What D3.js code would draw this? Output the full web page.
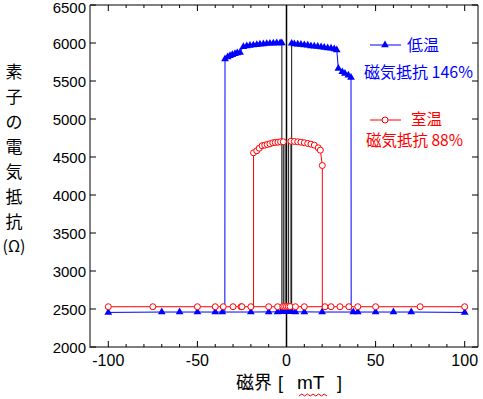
<!DOCTYPE html>
<html>
<head>
<meta charset="UTF-8">
<script src="https://d3js.org/d3.v7.min.js"></script>
<style>
  body { margin: 0; background: #fff; }
  svg { display: block; }
</style>
</head>
<body>
<svg></svg>
<script>
const width = 483, height = 399;

// tick values
const xTickValues = [-100, -50, 0, 50, 100];
const xMinorTicks = d3.range(-100, 101, 10);
const yTickValues = [2000, 2500, 3000, 3500, 4000, 4500, 5000, 5500, 6000, 6500];

// 低温 (blue, triangles)  [field mT, resistance Ω]
const lowBase = [[-100,2455],[-70,2460],[-60,2460],[-50,2460],[-40,2460],[-36,2460],[-20,2460],[-10,2462],[-5,2462],[-3,2465],[-2,2465],[-1,2465],[0,2465],[1,2465],[2,2465],[3,2465],[5,2462],[10,2462],[20,2460],[37.5,2460],[40,2460],[50,2460],[60,2460],[70,2460],[100,2455]];
const lowHighLeft = [[-34.6,2460],[-34.5,5790],[-33,5815],[-31.7,5833],[-30.4,5846],[-28.9,5858],[-27.6,5868],[-26.1,5876],[-24.2,5952],[-22.3,5960],[-20.5,5966],[-18.6,5972],[-16.7,5978],[-14.9,5983],[-13,5988],[-11.1,5992],[-9.3,5995],[-7.4,5998],[-5.5,6000],[-3.6,6000],[-2.6,6000]];
const lowHighRight = [[2.9,5995],[4.4,5988],[6.3,5984],[8.1,5980],[10,5975],[11.9,5970],[13.7,5962],[15.6,5957],[17.5,5953],[19.4,5948],[21.2,5940],[23.1,5935],[25,5930],[26.8,5921],[28.2,5908],[29.1,5664],[31.3,5620],[32.8,5598],[34.7,5575],[36.2,5545],[36.3,2460]];

// 室温 (red, open circles)
const roomBase = [[-100,2530],[-75,2530],[-50,2530],[-40,2530],[-35.5,2530],[-30,2530],[-25.5,2530],[-25,2530],[-20,2530],[-10,2530],[-5,2530],[-2,2532],[-1,2532],[0,2532],[1,2532],[2,2532],[5,2530],[10,2530],[21.6,2530],[25,2530],[30,2530],[35,2530],[40,2530],[50,2530],[75,2530],[100,2530]];
const roomHighLeft = [[-18.5,4555],[-16.7,4582],[-15.3,4616],[-13.7,4648],[-12.2,4656],[-10.8,4665],[-9.3,4674],[-7.7,4687],[-6.3,4691],[-4.8,4695],[-3.3,4700],[-1.8,4700]];
const roomHighRight = [[2.5,4708],[4.4,4704],[6.3,4700],[8.1,4695],[10,4687],[11.9,4678],[13.7,4669],[15.6,4656],[17.8,4621],[19,4590],[20.1,4388]];

// transitions near zero field (drawn black): [field, top Ω]
const zeroLinks = [[-2.6,6000],[2.9,5995],[-1.8,4700],[2.5,4708],[-0.8,4700],[1.2,4700]];

const yTitle = ["素", "子", "の", "電", "気", "抵", "抗"];

const svg = d3.select("svg").attr("width", width).attr("height", height);

const x = d3.scaleLinear().domain([-100, 100]).range([108.3, 464.7]);
const y = d3.scaleLinear().domain([2000, 6500]).range([347, 5]);
const pLeft = 90, pRight = 478, pTop = y(6500), pBottom = y(2000);

// zero line
svg.append("line")
  .attr("x1", x(0)).attr("x2", x(0)).attr("y1", pTop).attr("y2", pBottom)
  .attr("stroke", "#000").attr("stroke-width", 1.5);

// black transitions near zero
svg.append("g").selectAll("line")
  .data(zeroLinks)
  .join("line")
  .attr("x1", d => x(d[0])).attr("x2", d => x(d[0]))
  .attr("y1", d => y(d[1])).attr("y2", y(2460))
  .attr("stroke", "#111").attr("stroke-width", 1);

const line = d3.line().x(d => x(d[0])).y(d => y(d[1]));
const tri = d3.symbol(d3.symbolTriangle, 26);

function drawLow(data, withBottom) {
  svg.append("path").datum(data)
    .attr("d", line).attr("fill", "none").attr("stroke", "#0000ff").attr("stroke-width", 1);
  svg.append("g").selectAll("path")
    .data(data.filter(d => d[1] > 3000 || !withBottom))
    .join("path")
    .attr("d", tri)
    .attr("transform", d => `translate(${x(d[0])},${y(d[1])})`)
    .attr("fill", "#0000ff");
}
function drawRoom(data, ends) {
  let pts = data.slice();
  if (ends === "left") pts.unshift([data[0][0], 2530]);
  if (ends === "right") pts.push([data[data.length - 1][0], 2530]);
  svg.append("path").datum(pts)
    .attr("d", line).attr("fill", "none").attr("stroke", "#ff0000").attr("stroke-width", 1);
  svg.append("g").selectAll("circle")
    .data(data)
    .join("circle")
    .attr("cx", d => x(d[0])).attr("cy", d => y(d[1])).attr("r", 3)
    .attr("fill", "#fff").attr("stroke", "#ff0000").attr("stroke-width", 1);
}

drawLow(lowBase, false);
drawLow(lowHighLeft, true);
drawLow(lowHighRight, true);
drawRoom(roomBase, null);
drawRoom(roomHighLeft, "left");
drawRoom(roomHighRight, "right");

// frame
svg.append("line").attr("x1", pLeft).attr("x2", pRight).attr("y1", pBottom).attr("y2", pBottom).attr("stroke", "#000");
svg.append("line").attr("x1", pLeft).attr("x2", pRight).attr("y1", pTop).attr("y2", pTop).attr("stroke", "#000");
svg.append("line").attr("x1", pRight).attr("x2", pRight).attr("y1", pTop).attr("y2", pBottom).attr("stroke", "#000");
svg.append("line").attr("x1", pLeft).attr("x2", pLeft).attr("y1", pTop).attr("y2", pBottom + 1).attr("stroke", "#808080").attr("stroke-width", 2);

// x ticks (inward, bottom and top)
const isMajor = v => v % 50 === 0;
svg.append("g").selectAll("line").data(xMinorTicks).join("line")
  .attr("x1", d => x(d)).attr("x2", d => x(d))
  .attr("y1", pBottom).attr("y2", d => pBottom - (isMajor(d) ? 6 : 3))
  .attr("stroke", "#000");
svg.append("g").selectAll("line").data(xMinorTicks).join("line")
  .attr("x1", d => x(d)).attr("x2", d => x(d))
  .attr("y1", pTop).attr("y2", d => pTop + (isMajor(d) ? 6 : 3))
  .attr("stroke", "#000");

// y ticks (inward, left and right)
svg.append("g").selectAll("line").data(yTickValues).join("line")
  .attr("x1", pLeft).attr("x2", pLeft + 6).attr("y1", d => y(d)).attr("y2", d => y(d))
  .attr("stroke", "#000");
svg.append("g").selectAll("line").data(yTickValues).join("line")
  .attr("x1", pRight).attr("x2", pRight - 6).attr("y1", d => y(d)).attr("y2", d => y(d))
  .attr("stroke", "#000");

// tick labels
svg.append("g").selectAll("text").data(yTickValues).join("text")
  .attr("x", 86).attr("y", d => Math.max(y(d) + 1, 7.5)).attr("dy", "0.36em")
  .attr("text-anchor", "end")
  .style("font", "15px 'Liberation Sans', Arial, sans-serif")
  .text(d => d);
svg.append("g").selectAll("text").data(xTickValues).join("text")
  .attr("x", d => x(d)).attr("y", 366)
  .attr("text-anchor", "middle")
  .style("font", "16px 'Liberation Sans', Arial, sans-serif")
  .text(d => d);

// axis titles
const cjk = "'Noto Sans CJK JP', sans-serif";
svg.append("g").selectAll("text").data(yTitle).join("text")
  .attr("x", 14).attr("y", (d, i) => 72 + i * 25).attr("dy", "0.35em")
  .attr("text-anchor", "middle")
  .style("font", `17px ${cjk}`)
  .text(d => d);
svg.append("text").attr("x", 14).attr("y", 246).attr("dy", "0.35em")
  .attr("text-anchor", "middle")
  .style("font", `16px ${cjk}`)
  .text("(Ω)");

const xTitle = svg.append("text").attr("y", 383).attr("dy", "0.35em")
  .style("font", `18px ${cjk}`);
xTitle.append("tspan").attr("x", 236).text("磁界");
xTitle.append("tspan").attr("x", 278).style("font-family", "'Liberation Sans', sans-serif").text("[");
xTitle.append("tspan").attr("x", 297).style("font", "19px 'Liberation Sans', sans-serif").text("mT");
xTitle.append("tspan").attr("x", 337).style("font-family", "'Liberation Sans', sans-serif").text("]");
// spell-check squiggle under mT
const squiggle = d3.range(0, 11).map(i => [299 + i * 2.8, 395 + (i % 2 ? -1 : 1)]);
svg.append("path").datum(squiggle).attr("d", d3.line())
  .attr("fill", "none").attr("stroke", "#ff0000").attr("stroke-width", 1);

// legend
const lg = svg.append("g");
lg.append("line").attr("x1", 370).attr("x2", 401).attr("y1", 45).attr("y2", 45).attr("stroke", "#0000ff");
lg.append("path").attr("d", tri).attr("transform", "translate(385,45)").attr("fill", "#0000ff");
lg.append("text").attr("x", 407).attr("y", 45).attr("dy", "0.36em")
  .style("font", `16px ${cjk}`).attr("fill", "#0000ff").text("低温");
lg.append("text").attr("x", 364).attr("y", 72).attr("dy", "0.36em")
  .style("font", `16px ${cjk}`).attr("fill", "#0000ff").text("磁気抵抗 146%");

lg.append("line").attr("x1", 370).attr("x2", 401).attr("y1", 120).attr("y2", 120).attr("stroke", "#ff0000");
lg.append("circle").attr("cx", 385).attr("cy", 120).attr("r", 3)
  .attr("fill", "#fff").attr("stroke", "#ff0000");
lg.append("text").attr("x", 411).attr("y", 119).attr("dy", "0.36em")
  .style("font", `15.5px ${cjk}`).attr("fill", "#ff0000").text("室温");
lg.append("text").attr("x", 366).attr("y", 140).attr("dy", "0.36em")
  .style("font", `15.5px ${cjk}`).attr("fill", "#ff0000").text("磁気抵抗 88%");
</script>
</body>
</html>
